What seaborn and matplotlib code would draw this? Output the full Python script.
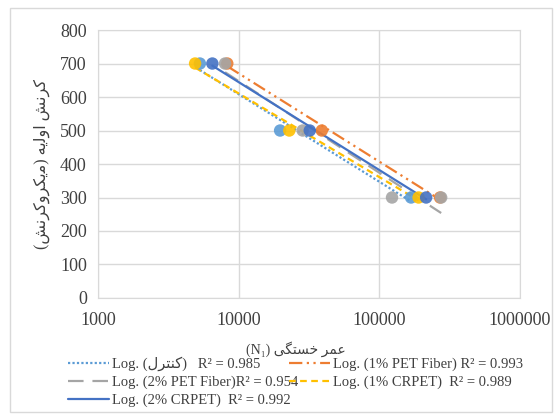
import numpy as np
import pandas as pd
import seaborn as sns
import matplotlib.pyplot as plt
from matplotlib.patches import Rectangle
from matplotlib.ticker import FixedLocator, NullLocator

# strain levels (micro-strain) and fatigue life
strain = [700, 500, 300]
control = [5300, 19700, 168000]
pet1 = [8300, 39000, 270000]
pet2_strain = [700, 500, 300, 300]
pet2 = [8000, 28500, 123000, 275000]
crpet1 = [4900, 22900, 190000]
crpet2 = [6500, 32000, 215000]

r2 = ["0.985", "0.993", "0.954", "0.989", "0.992"]
x_ticks = [1000, 10000, 100000, 1000000]
y_ticks = [0, 100, 200, 300, 400, 500, 600, 700, 800]

# Persian text written in visual order with presentation forms
control_fa = "\uFEDD\uFEAE\uFE98\uFEE8\uFB90"
ylabel = ("(\uFEB6\uFEE7\uFEAE\uFB90\uFEED\uFEAE\uFB91\uFBFE\uFEE3) "
          "\uFEEA\uFBFE\uFEDF\uFEED\uFE8D \uFEB6\uFEE7\uFEAE\uFB90")
xlabel = "(N\u2081) \uFBFD\uFB95\uFE98\uFEB4\uFEA7 \uFEAE\uFEE4\uFECB"

names = ["control", "1% PET Fiber", "2% PET Fiber", "1% CRPET", "2% CRPET"]
labels = [f"Log. ({control_fa})   R\u00b2 = {r2[0]}",
          f"Log. (1% PET Fiber) R\u00b2 = {r2[1]}",
          f"Log. (2% PET Fiber)R\u00b2 = {r2[2]}",
          f"Log. (1% CRPET)  R\u00b2 = {r2[3]}",
          f"Log. (2% CRPET)  R\u00b2 = {r2[4]}"]
colors = ["#5B9BD5", "#ED7D31", "#A5A5A5", "#FFC000", "#4472C4"]
styles = [(0, (1, 1)), (0, (6, 2, 1, 2, 1, 2)), (0, (7, 4)), (0, (3, 2)), "-"]
series = [control, pet1, pet2, crpet1, crpet2]
strains = [strain, strain, pet2_strain, strain, strain]

df = pd.DataFrame({
    "N": sum(series, []),
    "strain": sum(strains, []),
    "group": np.concatenate([[n] * len(v) for n, v in zip(names, series)]),
})

sns.set_style("white")
plt.rcParams["font.family"] = ["Liberation Serif", "DejaVu Sans"]

fig = plt.figure(figsize=(5.58, 4.17), dpi=100)
ax = fig.add_axes([0.1756, 0.2854, 0.932 - 0.1756, 0.928 - 0.2854])
fig.patches.append(Rectangle((0.018, 0.012), 0.972, 0.97, transform=fig.transFigure,
                             fill=False, edgecolor="#D9D9D9", linewidth=1))

handles = []
for col, ls, vals, ys in zip(colors, styles, series, strains):
    # logarithmic trendline, as in Excel: y = a ln(x) + b
    a, b = np.polyfit(np.log(vals), ys, 1)
    xs = np.geomspace(min(vals), max(vals), 50)
    line, = ax.plot(xs, a * np.log(xs) + b, color=col, linestyle=ls, linewidth=1.6, zorder=3)
    handles.append(line)

sns.scatterplot(data=df, x="N", y="strain", hue="group", palette=colors,
                hue_order=names, s=80, edgecolor="none", alpha=0.9,
                legend=False, ax=ax, zorder=4)

ax.set_xscale("log")
ax.set_xlim(1000, 1000000)
ax.set_ylim(0, 800)
ax.xaxis.set_major_locator(FixedLocator(x_ticks))
ax.xaxis.set_minor_locator(NullLocator())
ax.set_xticklabels([str(t) for t in x_ticks])
ax.set_yticks(y_ticks)
ax.tick_params(labelsize=13, length=0, colors="#404040")
ax.tick_params(axis="x", pad=10)
ax.tick_params(axis="y", pad=8)
ax.grid(True, color="#D9D9D9", linewidth=1)
for sp in ax.spines.values():
    sp.set_color("#D9D9D9")
ax.set_axisbelow(True)

ax.set_xlabel(xlabel, fontsize=10, color="#404040", labelpad=7)
ax.xaxis.set_label_coords(0.47, -0.16)
ax.set_ylabel(ylabel, fontsize=11.5, color="#404040", labelpad=7)

order = [0, 2, 4, 1, 3]
fig.legend([handles[i] for i in order], [labels[i] for i in order],
           loc="lower left", bbox_to_anchor=(0.098, -0.008), ncol=2,
           frameon=False, fontsize=10.5, handlelength=2.8, handletextpad=0.2,
           columnspacing=-0.6, labelspacing=0.3, labelcolor="#404040")

fig.savefig("out.png", dpi=100)
